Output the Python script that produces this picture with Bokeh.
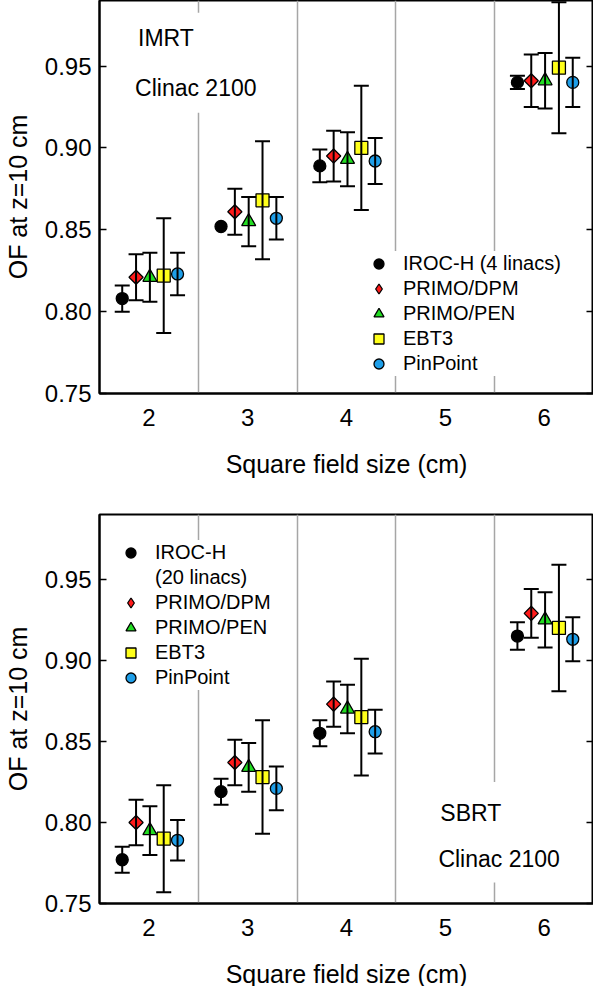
from bokeh.plotting import figure
from bokeh.models import (Range1d, FixedTicker, PrintfTickFormatter, LinearAxis, Whisker,
                          ColumnDataSource, Legend, LegendItem, Label, BoxAnnotation, TeeHead)
from bokeh.layouts import column
from bokeh.embed import file_html
from bokeh.resources import INLINE
import math

# ---------------- data ----------------
field_sizes = [2, 3, 4, 6]
x_ticks = [2, 3, 4, 5, 6]
y_ticks = [0.75, 0.80, 0.85, 0.90, 0.95]
separators = [2.5, 3.5, 4.5, 5.5]

series_names = ["IROC-H", "PRIMO/DPM", "PRIMO/PEN", "EBT3", "PinPoint"]

# IMRT, Clinac 2100
imrt_iroc = [0.808, 0.852, 0.889, 0.940]
imrt_iroc_err = [0.008, None, 0.010, 0.004]
imrt_dpm = [0.821, 0.861, 0.895, 0.941]
imrt_dpm_err = [0.014, 0.014, 0.0155, 0.016]
imrt_pen = [0.821, 0.855, 0.893, 0.941]
imrt_pen_err = [0.015, 0.015, 0.0165, 0.017]
imrt_ebt3 = [0.822, 0.868, 0.900, 0.949]
imrt_ebt3_err = [0.035, 0.036, 0.038, 0.040]
imrt_pinpoint = [0.823, 0.857, 0.892, 0.940]
imrt_pinpoint_err = [0.013, 0.013, 0.014, 0.015]

# SBRT, Clinac 2100
sbrt_iroc = [0.777, 0.819, 0.855, 0.915]
sbrt_iroc_err = [0.008, 0.008, 0.008, 0.0085]
sbrt_dpm = [0.800, 0.837, 0.873, 0.929]
sbrt_dpm_err = [0.014, 0.014, 0.014, 0.015]
sbrt_pen = [0.795, 0.834, 0.870, 0.925]
sbrt_pen_err = [0.015, 0.015, 0.015, 0.017]
sbrt_ebt3 = [0.790, 0.828, 0.865, 0.920]
sbrt_ebt3_err = [0.033, 0.035, 0.036, 0.039]
sbrt_pinpoint = [0.789, 0.821, 0.856, 0.913]
sbrt_pinpoint_err = [0.0125, 0.0135, 0.0135, 0.0136]

# ---------------- styles ----------------
FONT = "Liberation Sans"
offsets = [-0.27, -0.13, 0.01, 0.15, 0.29]
styles = [
    dict(marker="circle", size=12, fill_color="black", angle=0),
    dict(marker="square", size=10, fill_color="#ff1a1a", angle=math.pi / 4),
    dict(marker="triangle", size=14, fill_color="#22dd22", angle=0),
    dict(marker="square", size=13, fill_color="#ffff1a", angle=0),
    dict(marker="circle", size=12, fill_color="#1e9ee8", angle=0),
]
GRID = "#a6a6a6"


def make_panel(values, errors, frame_h, border_top, border_bottom):
    p = figure(frame_width=494, frame_height=frame_h,
               x_range=Range1d(1.5, 6.5), y_range=Range1d(0.75, 0.99),
               output_backend="svg", toolbar_location=None,
               min_border_left=93, min_border_right=0,
               min_border_top=border_top, min_border_bottom=border_bottom,
               background_fill_color="white", border_fill_color="white")
    p.outline_line_color = "black"
    p.outline_line_width = 2
    p.outline_line_alpha = 1

    p.xgrid.ticker = FixedTicker(ticks=separators)
    p.xgrid.grid_line_color = GRID
    p.xgrid.grid_line_width = 1.5
    p.ygrid.grid_line_color = None

    xa = p.xaxis[0]
    xa.ticker = FixedTicker(ticks=x_ticks)
    xa.major_tick_in = 0
    xa.major_tick_out = 0
    xa.minor_tick_in = 0
    xa.minor_tick_out = 0
    xa.axis_line_width = 2
    xa.major_label_text_font = FONT
    xa.major_label_text_font_size = "24px"
    xa.major_label_text_color = "black"
    xa.major_label_standoff = 15
    xa.axis_label = "Square field size (cm)"
    xa.axis_label_text_font = FONT
    xa.axis_label_text_font_size = "25px"
    xa.axis_label_text_font_style = "normal"
    xa.axis_label_text_color = "black"
    xa.axis_label_standoff = 21

    ya = p.yaxis[0]
    ya.ticker = FixedTicker(ticks=y_ticks)
    ya.formatter = PrintfTickFormatter(format="%.2f")
    ya.major_tick_in = 7
    ya.major_tick_out = 0
    ya.minor_tick_in = 0
    ya.minor_tick_out = 0
    ya.major_tick_line_width = 1.5
    ya.axis_line_width = 2
    ya.major_label_text_font = FONT
    ya.major_label_text_font_size = "24px"
    ya.major_label_text_color = "black"
    ya.major_label_standoff = 8
    ya.axis_label = "OF at z=10 cm"
    ya.axis_label_text_font = FONT
    ya.axis_label_text_font_size = "25px"
    ya.axis_label_text_font_style = "normal"
    ya.axis_label_text_color = "black"
    ya.axis_label_standoff = 10

    ra = LinearAxis(ticker=FixedTicker(ticks=y_ticks), major_tick_in=7, major_tick_out=0,
                    minor_tick_in=0, minor_tick_out=0, major_tick_line_width=1.5,
                    axis_line_color=None, major_label_standoff=0,
                    major_label_overrides={t: "" for t in y_ticks})
    p.add_layout(ra, "right")

    renderers = []
    for k, (vals, errs) in enumerate(zip(values, errors)):
        xs = [f + offsets[k] for f in field_sizes]
        wx = [x for x, e in zip(xs, errs) if e is not None]
        lo = [v - e for v, e in zip(vals, errs) if e is not None]
        hi = [v + e for v, e in zip(vals, errs) if e is not None]
        wsrc = ColumnDataSource(dict(x=wx, lower=lo, upper=hi))
        w = Whisker(base="x", lower="lower", upper="upper", source=wsrc, dimension="height",
                    line_width=2, line_color="black", level="glyph",
                    upper_head=TeeHead(size=15, line_width=2, line_color="black"),
                    lower_head=TeeHead(size=15, line_width=2, line_color="black"))
        p.add_layout(w)
    for k, vals in enumerate(values):
        xs = [f + offsets[k] for f in field_sizes]
        st = styles[k]
        r = p.scatter(xs, vals, marker=st["marker"], size=st["size"], angle=st["angle"],
                      fill_color=st["fill_color"], line_color="black", line_width=1.3)
        renderers.append(r)
    # legend-only proxy for the diamond (legend glyphs are never rotated);
    # NaN position -> nothing drawn inside the plot
    proxy = p.scatter(x=[float("nan")], y=[float("nan")], marker="diamond",
                      fill_color=styles[1]["fill_color"], line_color="black", line_width=1.3)
    renderers[1] = proxy
    return p, renderers


imrt_vals = [imrt_iroc, imrt_dpm, imrt_pen, imrt_ebt3, imrt_pinpoint]
imrt_errs = [imrt_iroc_err, imrt_dpm_err, imrt_pen_err, imrt_ebt3_err, imrt_pinpoint_err]
sbrt_vals = [sbrt_iroc, sbrt_dpm, sbrt_pen, sbrt_ebt3, sbrt_pinpoint]
sbrt_errs = [sbrt_iroc_err, sbrt_dpm_err, sbrt_pen_err, sbrt_ebt3_err, sbrt_pinpoint_err]

p1, r1 = make_panel(imrt_vals, imrt_errs, 393, 0, 111)
p2, r2 = make_panel(sbrt_vals, sbrt_errs, 389, 10, 82)

# text boxes (white background hiding separators)
p1.add_layout(BoxAnnotation(left=2.3, right=3.3, bottom=0.9215, top=0.9825,
                            fill_color="white", fill_alpha=1, line_color=None))
p2.add_layout(BoxAnnotation(left=4.85, right=6.35, bottom=0.763, top=0.825,
                            fill_color="white", fill_alpha=1, line_color=None))

for p, txts in ((p1, [("IMRT", 1.89, 0.967), ("Clinac 2100", 1.86, 0.9365)]),
                (p2, [("SBRT", 4.95, 0.8057), ("Clinac 2100", 4.93, 0.7772)])):
    for t, x, y in txts:
        p.add_layout(Label(x=x, y=y, text=t, text_font=FONT, text_font_size="23px",
                           text_baseline="middle", text_align="left", text_color="black"))

# legends
def legend_common(lg):
    lg.label_text_font = FONT
    lg.label_text_font_size = "20px"
    lg.label_text_color = "black"
    lg.glyph_width = 25
    lg.glyph_height = 25
    lg.label_height = 25
    lg.spacing = 0
    lg.padding = 15
    lg.margin = 0
    lg.label_standoff = 12
    lg.border_line_color = None
    lg.background_fill_color = "white"
    lg.background_fill_alpha = 1
    return lg

items1 = [LegendItem(label="IROC-H (4 linacs)", renderers=[r1[0]])] + \
         [LegendItem(label=n, renderers=[r]) for n, r in zip(series_names[1:], r1[1:])]
lg1 = legend_common(Legend(items=items1, location=(267, 17)))
p1.add_layout(lg1, "center")

blank = p2.scatter(x=[], y=[], marker="circle", fill_alpha=0, line_alpha=0)
items2 = [LegendItem(label="IROC-H", renderers=[r2[0]]),
          LegendItem(label="(20 linacs)", renderers=[blank])] + \
         [LegendItem(label=n, renderers=[r]) for n, r in zip(series_names[1:], r2[1:])]
lg2 = legend_common(Legend(items=items2, location=(19, 213)))
p2.add_layout(lg2, "center")

layout = column(p1, p2, spacing=0)
open("out.html", "w").write(file_html(layout, INLINE))
